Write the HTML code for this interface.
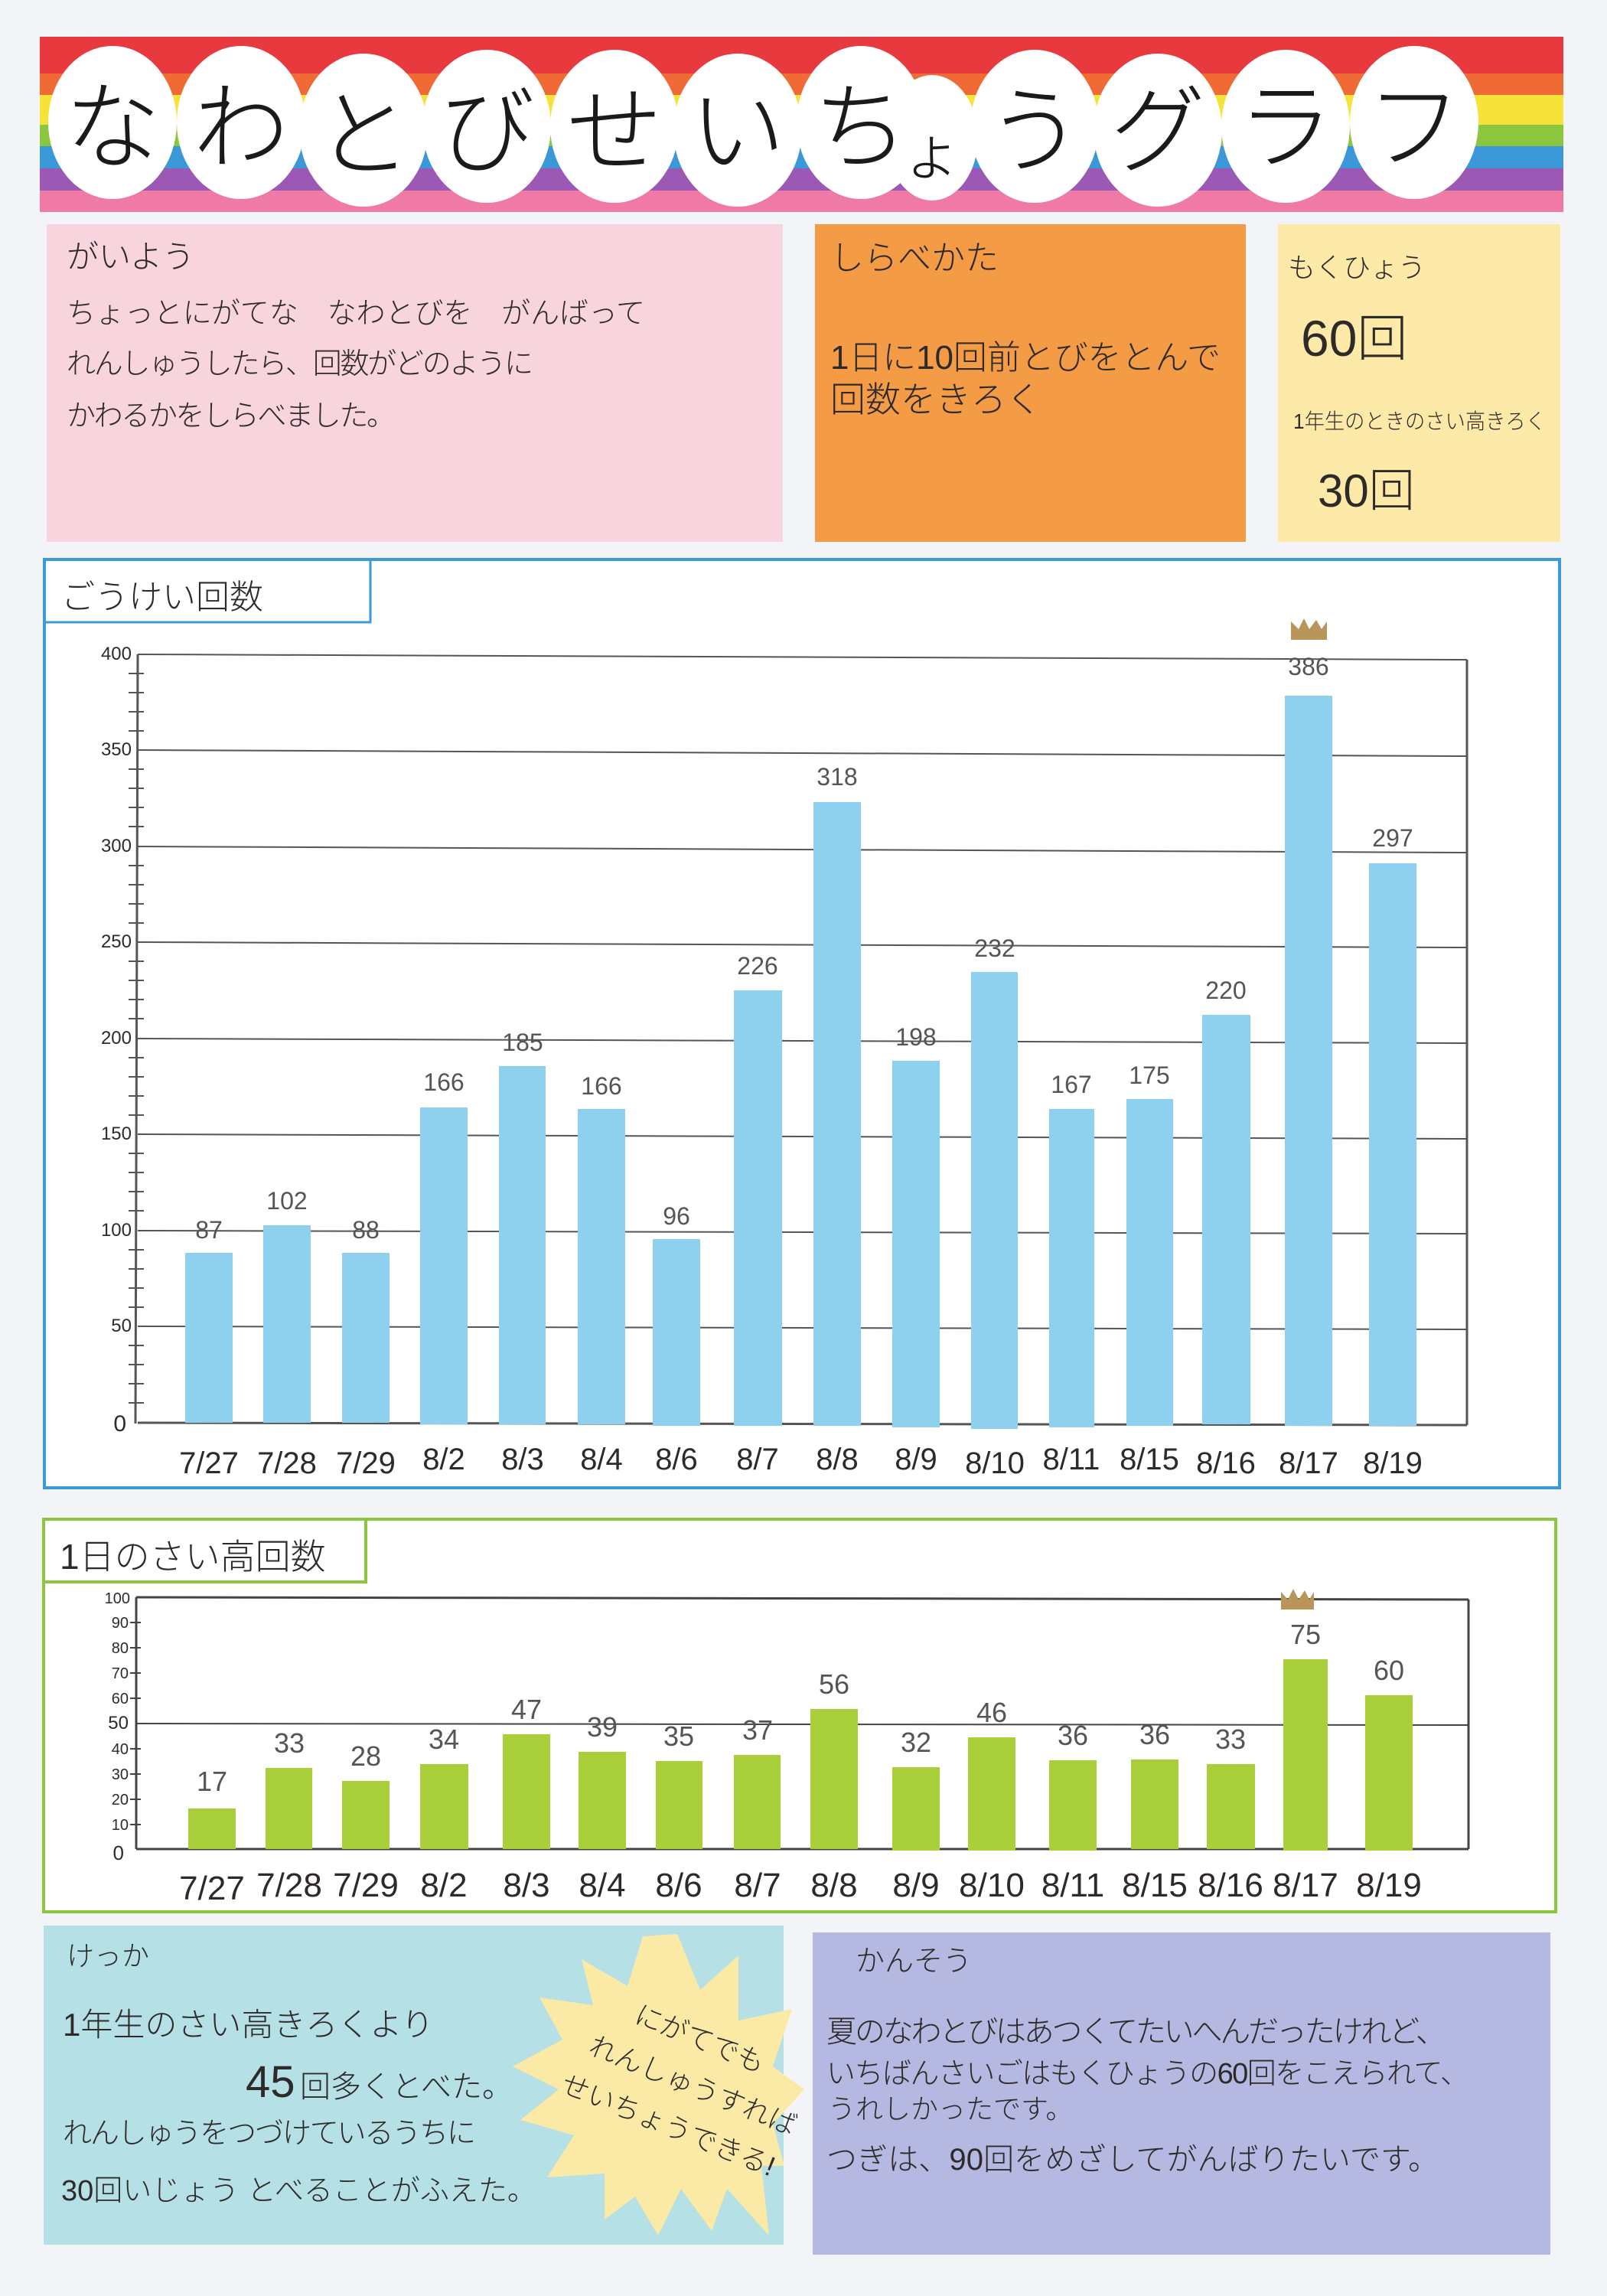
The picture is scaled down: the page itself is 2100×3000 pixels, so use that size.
<!DOCTYPE html>
<html><head><meta charset="utf-8">
<style>
html,body{margin:0;padding:0;background:#f3f4f7;}
svg{display:block;}
text{font-family:"Liberation Sans","Noto Sans CJK JP",sans-serif;}
.h{fill:#2e2a2a;font-weight:300;}
</style></head>
<body>
<svg width="2100" height="3000" viewBox="0 0 2100 3000" xmlns="http://www.w3.org/2000/svg">
<rect width="2100" height="3000" fill="#f3f4f7"/>
<rect x="52" y="48" width="1991" height="48" fill="#e8393f"/>
<rect x="52" y="96" width="1991" height="28" fill="#ef6a35"/>
<rect x="52" y="124" width="1991" height="39" fill="#f6e33a"/>
<rect x="52" y="163" width="1991" height="28" fill="#8cc63f"/>
<rect x="52" y="191" width="1991" height="29" fill="#3a98d8"/>
<rect x="52" y="220" width="1991" height="29" fill="#9b59b5"/>
<rect x="52" y="249" width="1991" height="28" fill="#ef7aa6"/>
<g fill="#ffffff">
<ellipse cx="147" cy="160" rx="84" ry="100"/>
<ellipse cx="315" cy="160" rx="84" ry="100"/>
<ellipse cx="475" cy="170" rx="84" ry="100"/>
<ellipse cx="636" cy="165" rx="84" ry="100"/>
<ellipse cx="803" cy="165" rx="84" ry="100"/>
<ellipse cx="964" cy="170" rx="84" ry="100"/>
<ellipse cx="1125" cy="160" rx="84" ry="100"/>
<ellipse cx="1218" cy="180" rx="60" ry="82"/>
<ellipse cx="1352" cy="165" rx="84" ry="100"/>
<ellipse cx="1513" cy="170" rx="84" ry="100"/>
<ellipse cx="1680" cy="165" rx="84" ry="100"/>
<ellipse cx="1848" cy="160" rx="84" ry="100"/>
</g>
<g font-size="125" text-anchor="middle" style="fill:#1a1a1a;font-weight:300">
<text x="147" y="210">な</text><text x="315" y="210">わ</text><text x="475" y="220">と</text>
<text x="636" y="215">び</text><text x="803" y="215">せ</text><text x="964" y="215">い</text>
<text x="1125" y="210">ち</text><text x="1218" y="228" font-size="80">ょ</text><text x="1352" y="215">う</text>
<text x="1513" y="215">グ</text><text x="1680" y="210">ラ</text><text x="1848" y="210">フ</text>
</g>
<rect x="61" y="293" width="962" height="415" fill="#f8d4de"/>
<rect x="1065" y="293" width="563" height="415" fill="#f39b45"/>
<rect x="1670" y="293" width="369" height="415" fill="#fde9a8"/>
<g class="h">
<text x="87" y="350" font-size="42">がいよう</text>
<text x="87" y="422" font-size="38" textLength="756">ちょっとにがてな　なわとびを　がんばって</text>
<text x="87" y="488" font-size="38" textLength="610">れんしゅうしたら、回数がどのように</text>
<text x="87" y="556" font-size="38" textLength="430">かわるかをしらべました。</text>
<text x="1085" y="352" font-size="44">しらべかた</text>
<text x="1085" y="482" font-size="44" textLength="510">1日に10回前とびをとんで</text>
<text x="1085" y="538" font-size="46">回数をきろく</text>
<text x="1683" y="362" font-size="36">もくひょう</text>
<text x="1700" y="465" font-size="66">60回</text>
<text x="1690" y="560" font-size="28" textLength="330" lengthAdjust="spacingAndGlyphs">1年生のときのさい高きろく</text>
<text x="1722" y="662" font-size="60">30回</text>
</g>
<rect x="58" y="731" width="1980" height="1213" fill="#ffffff" stroke="#3b9ad8" stroke-width="4"/>
<rect x="58" y="731" width="426" height="82" fill="none" stroke="#3b9ad8" stroke-width="3"/>
<text class="h" x="80" y="795" font-size="44">ごうけい回数</text>
<g stroke="#555" stroke-width="2">
<line x1="180" y1="855" x2="1917" y2="862"/>
<line x1="180" y1="980" x2="1917" y2="988"/>
<line x1="180" y1="1106" x2="1917" y2="1114"/>
<line x1="180" y1="1231" x2="1917" y2="1238"/>
<line x1="180" y1="1357" x2="1917" y2="1363"/>
<line x1="180" y1="1482" x2="1917" y2="1488"/>
<line x1="180" y1="1608" x2="1917" y2="1612"/>
<line x1="180" y1="1733" x2="1917" y2="1737"/>
<line x1="180" y1="1859" x2="1917" y2="1862" stroke-width="3"/>
<line x1="180" y1="855" x2="177" y2="1860" stroke-width="3"/>
<line x1="1917" y1="862" x2="1917" y2="1862" stroke-width="3"/>
</g>
<g stroke="#555" stroke-width="2">
<path d="M168 880h20M168 905h20M168 930h20M168 955h20M168 1005h20M168 1030h20M168 1055h20M168 1080h20M168 1131h20M168 1156h20M168 1181h20M168 1206h20M168 1256h20M168 1281h20M168 1306h20M168 1331h20M168 1382h20M168 1407h20M168 1432h20M168 1457h20M168 1507h20M168 1532h20M168 1557h20M168 1582h20M168 1633h20M168 1658h20M168 1683h20M168 1708h20M168 1758h20M168 1783h20M168 1808h20M168 1833h20"/>
</g>
<g class="h" font-size="24" text-anchor="end">
<text x="172" y="862">400</text><text x="172" y="987">350</text><text x="172" y="1113">300</text>
<text x="172" y="1238">250</text><text x="172" y="1364">200</text><text x="172" y="1489">150</text>
<text x="172" y="1615">100</text><text x="172" y="1740">50</text><text x="165" y="1870" font-size="30">0</text>
</g>
<g fill="#8ed1ee">
<rect x="242" y="1637" width="62" height="222"/>
<rect x="344" y="1601" width="62" height="258"/>
<rect x="447" y="1637" width="62" height="222"/>
<rect x="549" y="1447" width="62" height="414"/>
<rect x="652" y="1393" width="61" height="468"/>
<rect x="755" y="1449" width="62" height="412"/>
<rect x="853" y="1619" width="62" height="244"/>
<rect x="959" y="1294" width="63" height="569"/>
<rect x="1063" y="1048" width="62" height="815"/>
<rect x="1166" y="1386" width="62" height="479"/>
<rect x="1269" y="1270" width="61" height="597"/>
<rect x="1371" y="1449" width="59" height="416"/>
<rect x="1472" y="1436" width="61" height="427"/>
<rect x="1571" y="1326" width="63" height="535"/>
<rect x="1679" y="909" width="62" height="954"/>
<rect x="1789" y="1128" width="62" height="735"/>
</g>
<g class="h" font-size="32" text-anchor="middle" style="fill:#555">
<text x="273" y="1618">87</text><text x="375" y="1580">102</text><text x="478" y="1618">88</text>
<text x="580" y="1425">166</text><text x="683" y="1373">185</text><text x="786" y="1430">166</text>
<text x="884" y="1600">96</text><text x="990" y="1273">226</text><text x="1094" y="1026">318</text>
<text x="1197" y="1366">198</text><text x="1300" y="1250">232</text><text x="1400" y="1428">167</text>
<text x="1502" y="1416">175</text><text x="1602" y="1305">220</text><text x="1710" y="882">386</text>
<text x="1820" y="1106">297</text>
</g>
<path d="M1687 836V812l10 10 7-14 7 14 9-12 7 12 7-10V836z" fill="#b8965a"/>
<g class="h" font-size="40" text-anchor="middle">
<text x="273" y="1925">7/27</text><text x="375" y="1925">7/28</text><text x="478" y="1925">7/29</text>
<text x="580" y="1920">8/2</text><text x="683" y="1920">8/3</text><text x="786" y="1920">8/4</text>
<text x="884" y="1920">8/6</text><text x="990" y="1920">8/7</text><text x="1094" y="1920">8/8</text>
<text x="1197" y="1920">8/9</text><text x="1300" y="1925">8/10</text><text x="1400" y="1920">8/11</text>
<text x="1502" y="1920">8/15</text><text x="1602" y="1925">8/16</text><text x="1710" y="1925">8/17</text>
<text x="1820" y="1925">8/19</text>
</g>
<rect x="57" y="1985" width="1976" height="513" fill="#ffffff" stroke="#8cc63f" stroke-width="4"/>
<rect x="57" y="1985" width="421" height="82" fill="none" stroke="#8cc63f" stroke-width="4"/>
<text class="h" x="78" y="2050" font-size="46">1日のさい高回数</text>
<g stroke="#444" stroke-width="3">
<line x1="178" y1="2087" x2="1919" y2="2090"/>
<line x1="178" y1="2252" x2="1919" y2="2254" stroke-width="2"/>
<line x1="178" y1="2416" x2="1919" y2="2416"/>
<line x1="178" y1="2087" x2="178" y2="2416"/>
<line x1="1919" y1="2090" x2="1919" y2="2416"/>
</g>
<g stroke="#444" stroke-width="2">
<path d="M170 2120h14M170 2153h14M170 2186h14M170 2219h14M170 2285h14M170 2318h14M170 2351h14M170 2384h14"/>
</g>
<g class="h" font-size="20" text-anchor="end">
<text x="170" y="2095">100</text><text x="168" y="2127">90</text><text x="168" y="2160">80</text>
<text x="168" y="2193">70</text><text x="168" y="2226">60</text><text x="168" y="2259" font-size="24">50</text>
<text x="168" y="2292">40</text><text x="168" y="2325">30</text><text x="168" y="2358">20</text>
<text x="168" y="2391">10</text><text x="162" y="2430" font-size="26">0</text>
</g>
<g fill="#a9cf3b">
<rect x="246" y="2363" width="62" height="53"/>
<rect x="347" y="2310" width="61" height="106"/>
<rect x="447" y="2327" width="62" height="89"/>
<rect x="549" y="2305" width="63" height="111"/>
<rect x="657" y="2266" width="62" height="150"/>
<rect x="756" y="2289" width="62" height="127"/>
<rect x="857" y="2301" width="61" height="115"/>
<rect x="959" y="2293" width="61" height="123"/>
<rect x="1059" y="2233" width="62" height="183"/>
<rect x="1166" y="2309" width="62" height="109"/>
<rect x="1265" y="2270" width="62" height="148"/>
<rect x="1371" y="2300" width="62" height="118"/>
<rect x="1478" y="2299" width="62" height="117"/>
<rect x="1577" y="2305" width="63" height="111"/>
<rect x="1677" y="2168" width="58" height="250"/>
<rect x="1784" y="2215" width="62" height="203"/>
</g>
<g class="h" font-size="36" text-anchor="middle" style="fill:#555">
<text x="277" y="2340">17</text><text x="378" y="2290">33</text><text x="478" y="2307">28</text>
<text x="580" y="2285">34</text><text x="688" y="2246">47</text><text x="787" y="2269">39</text>
<text x="887" y="2281">35</text><text x="990" y="2273">37</text><text x="1090" y="2213">56</text>
<text x="1197" y="2289">32</text><text x="1296" y="2250">46</text><text x="1402" y="2280">36</text>
<text x="1509" y="2279">36</text><text x="1608" y="2285">33</text><text x="1706" y="2148">75</text>
<text x="1815" y="2195">60</text>
</g>
<path d="M1674 2103V2080l9 10 7-14 7 14 8-12 6 12 6-10V2103z" fill="#b8965a"/>
<g class="h" font-size="44" text-anchor="middle">
<text x="277" y="2482">7/27</text><text x="378" y="2478">7/28</text><text x="478" y="2478">7/29</text>
<text x="580" y="2478">8/2</text><text x="688" y="2478">8/3</text><text x="787" y="2478">8/4</text>
<text x="887" y="2478">8/6</text><text x="990" y="2478">8/7</text><text x="1090" y="2478">8/8</text>
<text x="1197" y="2478">8/9</text><text x="1296" y="2478">8/10</text><text x="1402" y="2478">8/11</text>
<text x="1509" y="2478">8/15</text><text x="1608" y="2478">8/16</text><text x="1706" y="2478">8/17</text>
<text x="1815" y="2478">8/19</text>
</g>
<rect x="57" y="2516" width="967" height="417" fill="#b5e0e6"/>
<rect x="1062" y="2525" width="964" height="421" fill="#b5b8e0"/>
<polygon fill="#fbeaa5" points="885,2527 915,2600 965,2555 965,2640 1035,2625 1010,2700 1051,2730 1010,2775 1025,2830 995,2830 1005,2921 950,2860 930,2915 890,2860 860,2921 830,2870 790,2900 790,2840 715,2845 750,2790 680,2770 730,2730 670,2700 735,2665 705,2610 775,2620 760,2560 820,2595 840,2530"/>
<g class="h">
<text x="87" y="2568" font-size="36">けっか</text>
<text x="82" y="2660" font-size="42">1年生のさい高きろくより</text>
<text x="321" y="2740" font-size="58">45</text><text x="392" y="2740" font-size="40">回多くとべた。</text>
<text x="82" y="2800" font-size="38" textLength="540">れんしゅうをつづけているうちに</text>
<text x="80" y="2875" font-size="38">30回いじょう とべることがふえた。</text>
<g transform="rotate(22 860 2720)" font-size="36">
<text x="800" y="2660">にがてでも</text>
<text x="760" y="2720">れんしゅうすれば</text>
<text x="745" y="2780">せいちょうできる!</text>
</g>
<text x="1118" y="2575" font-size="38">かんそう</text>
<text x="1080" y="2668" font-size="40" textLength="810">夏のなわとびはあつくてたいへんだったけれど、</text>
<text x="1080" y="2722" font-size="38" textLength="840">いちばんさいごはもくひょうの60回をこえられて、</text>
<text x="1082" y="2768" font-size="36">うれしかったです。</text>
<text x="1080" y="2835" font-size="40" textLength="800">つぎは、90回をめざしてがんばりたいです。</text>
</g>
</svg>
</body></html>
